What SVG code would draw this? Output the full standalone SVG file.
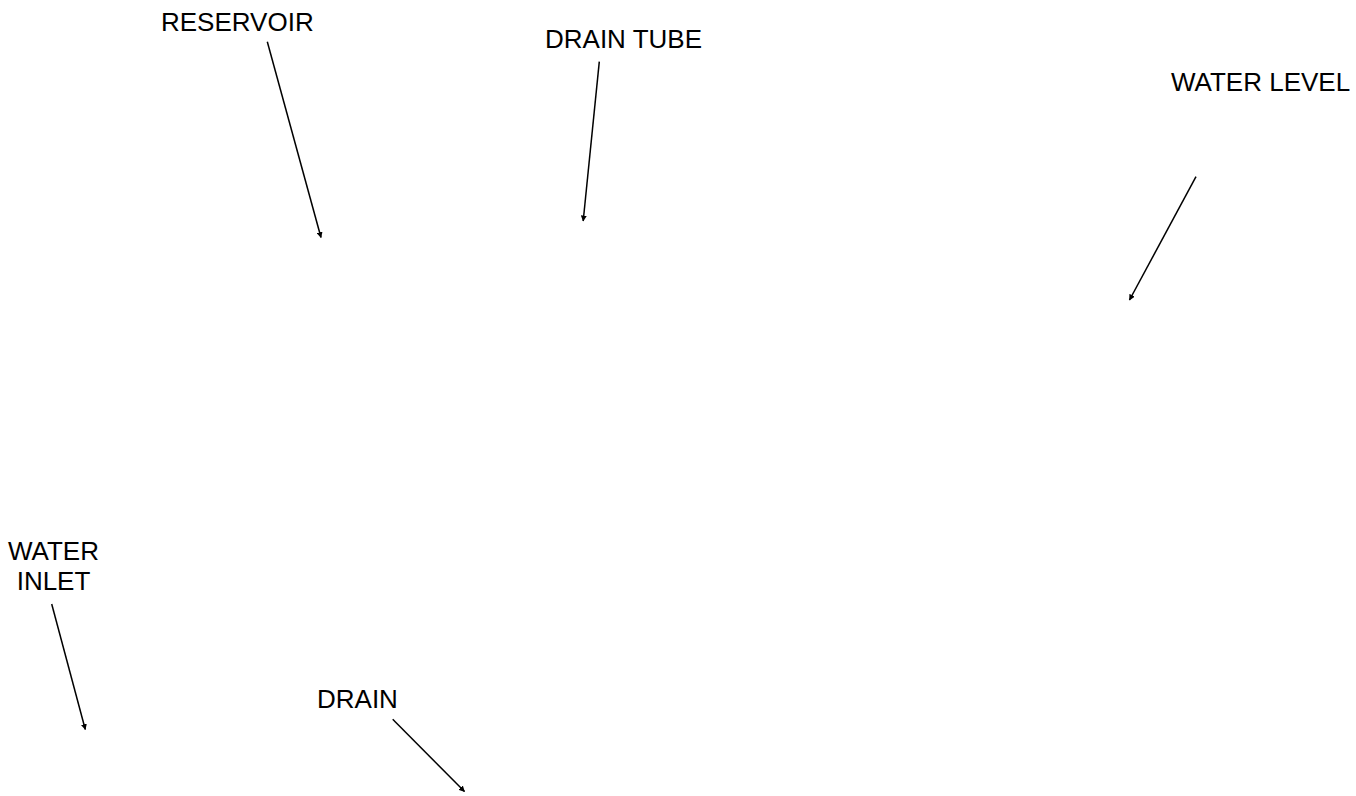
<svg xmlns="http://www.w3.org/2000/svg" width="1356" height="796" viewBox="0 0 1356 796">
<style>
.lbl{font-family:"Liberation Sans",Arial,sans-serif;font-size:26px;fill:#000}
.ln{stroke:#000;stroke-width:1.5;fill:none;marker-end:url(#ah)}
</style>
<defs>
<marker id="ah" viewBox="0 0 10 10" refX="9" refY="5" markerWidth="4" markerHeight="4" orient="auto" markerUnits="strokeWidth">
<path d="M0,0 L10,5 L0,10 z" fill="#000"/>
</marker>
</defs>
<rect width="1356" height="796" fill="#fff"/>
<g id="reservoir"><text class="lbl" x="161" y="31">RESERVOIR</text></g>
<g id="drain-tube"><text class="lbl" x="545" y="48">DRAIN TUBE</text></g>
<g id="water-level"><text class="lbl" x="1171" y="91">WATER LEVEL</text></g>
<g id="water-inlet"><text class="lbl" text-anchor="middle"><tspan x="53.5" y="560">WATER</tspan><tspan x="53.5" y="590">INLET</tspan></text></g>
<g id="drain"><text class="lbl" x="317" y="708">DRAIN</text></g>
<g id="connectors">
<line class="ln" x1="267.3" y1="41.7" x2="321" y2="237.5"/>
<line class="ln" x1="599.3" y1="61.7" x2="583.2" y2="221"/>
<line class="ln" x1="1196" y1="176.7" x2="1129.5" y2="300"/>
<line class="ln" x1="51.7" y1="604" x2="85.3" y2="729.5"/>
<line class="ln" x1="392.7" y1="719.3" x2="464.5" y2="791.5"/>
</g>
</svg>
